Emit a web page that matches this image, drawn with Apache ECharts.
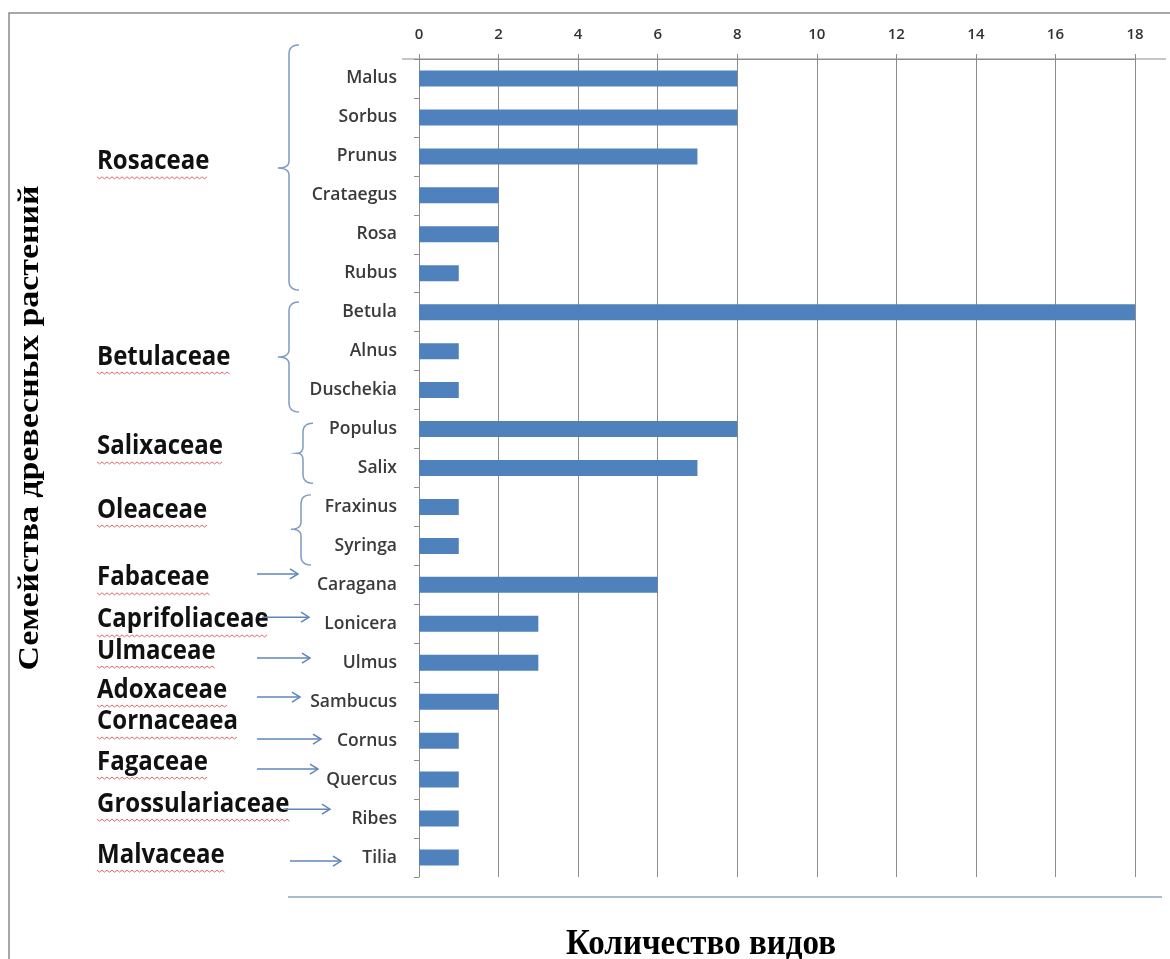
<!DOCTYPE html>
<html>
<head>
<meta charset="utf-8">
<script src="https://cdn.jsdelivr.net/npm/echarts@6/dist/echarts.min.js"></script>
<style>
html,body{margin:0;padding:0;background:#fff;}
#chart{width:1170px;height:959px;}
</style>
</head>
<body>
<div id="chart"></div>
<script>
// ---- data ----
const categories = ['Malus','Sorbus','Prunus','Crataegus','Rosa','Rubus','Betula','Alnus','Duschekia','Populus','Salix','Fraxinus','Syringa','Caragana','Lonicera','Ulmus','Sambucus','Cornus','Quercus','Ribes','Tilia'];
const speciesCounts = [8,8,7,2,2,1,18,1,1,8,7,1,1,6,3,3,2,1,1,1,1];
const xTickValues = [0,2,4,6,8,10,12,14,16,18];
const families = ['Rosaceae','Betulaceae','Salixaceae','Oleaceae','Fabaceae','Caprifoliaceae','Ulmaceae','Adoxaceae','Cornaceaea','Fagaceae','Grossulariaceae','Malvaceae'];
const yTitle = 'Семейства древесных растений';
const xTitle = 'Количество видов';

// ---- annotation layout (fractional category positions) ----
const familyLabelPos = [2.14,7.15,9.46,11.08,12.82,13.90,14.70,15.70,16.52,17.55,18.63,19.94];
const braces = [
  {t:-0.86, m:2.30, b:5.43, x:289, tip:11},
  {t:5.74, m:7.15, b:8.56, x:289, tip:11},
  {t:8.85, m:9.62, b:10.39, x:303, tip:6},
  {t:10.69, m:11.57, b:12.49, x:301, tip:10}
];
const arrows = [
  [12.72,257,298],[13.83,262,309],[14.88,257,310],[15.88,257,300],
  [16.96,257,321],[17.73,257,318],[18.76,283,330],[20.09,290,341]
];

const chart = echarts.init(document.getElementById('chart'));
const gridCol = '#8c8c8c';
chart.setOption({
  animation:false,
  backgroundColor:'#fff',
  grid:{left:419,right:35,top:59,bottom:82,containLabel:false},
  xAxis:{
    type:'value', position:'top', min:0, max:18, interval:2,
    axisLine:{show:true,lineStyle:{color:gridCol,width:1}},
    axisTick:{show:true,length:5,lineStyle:{color:gridCol}},
    axisLabel:{margin:17,color:'#333',fontSize:15,fontWeight:600,fontFamily:'Open Sans',
      formatter:function(v){return xTickValues.indexOf(v)>=0?String(v):'';}},
    splitLine:{show:true,lineStyle:{color:gridCol,width:1}}
  },
  yAxis:{
    type:'category', inverse:true, data:categories,
    axisLine:{show:true,lineStyle:{color:gridCol,width:1}},
    axisTick:{show:true,length:5,lineStyle:{color:gridCol}},
    axisLabel:{margin:22,color:'#3a3a3a',fontSize:17.5,fontWeight:600,fontFamily:'Open Sans'}
  },
  series:[{
    type:'bar', data:speciesCounts, barWidth:16,
    itemStyle:{color:'#4f81bd'}
  }]
});

function catY(f){
  const y0 = chart.convertToPixel({yAxisIndex:0},0);
  const y1 = chart.convertToPixel({yAxisIndex:0},1);
  return y0 + f*(y1-y0);
}
function quad(p0,p1,p2,n){
  const out=[];
  for(let i=0;i<=n;i++){
    const t=i/n, a=(1-t)*(1-t), b=2*(1-t)*t, c=t*t;
    out.push([a*p0[0]+b*p1[0]+c*p2[0], a*p0[1]+b*p1[1]+c*p2[1]]);
  }
  return out;
}
const ctx = document.createElement('canvas').getContext('2d');
const famFont = 'bold 24px "Open Sans"';
ctx.font = famFont;

const g = [];
g.push({type:'rect',shape:{x:9,y:13,width:1200,height:1000},style:{fill:null,stroke:'#8a8a8a',lineWidth:1.5},silent:true});
const axY = catY(-0.5);
g.push({type:'line',shape:{x1:402,y1:axY,x2:1166,y2:axY},style:{stroke:gridCol,lineWidth:1}});
g.push({type:'line',shape:{x1:288,y1:897,x2:1162,y2:897},style:{stroke:'#8fa3bd',lineWidth:1.5}});
families.forEach(function(name,i){
  const y = catY(familyLabelPos[i]);
  g.push({type:'text',x:97,y:y,scaleY:1.1,style:{text:name,font:famFont,fill:'#111',align:'left',verticalAlign:'middle'}});
  const w = ctx.measureText(name).width;
  const pts = [];
  const uy = y + 15;
  for(let x=0,k=0;x<=w;x+=2.5,k++){pts.push([97+x, uy + (k%2?2:0)]);}
  g.push({type:'polyline',shape:{points:pts},style:{stroke:'#e06a6a',lineWidth:1,fill:null}});
});
braces.forEach(function(b){
  const t=catY(b.t), m=catY(b.m), bt=catY(b.b), x=b.x;
  let pts = [];
  pts = pts.concat(quad([x+10,t],[x,t],[x,t+9],6));
  pts = pts.concat(quad([x,m-7],[x,m],[x-b.tip,m],6));
  pts = pts.concat(quad([x-b.tip,m],[x,m],[x,m+7],6));
  pts = pts.concat(quad([x,bt-9],[x,bt],[x+10,bt],6));
  g.push({type:'polyline',shape:{points:pts},style:{stroke:'#7f9bc2',lineWidth:1.5,fill:null}});
});
arrows.forEach(function(a){
  const y=catY(a[0]);
  g.push({type:'polyline',shape:{points:[[a[1],y],[a[2],y]]},style:{stroke:'#5f86b8',lineWidth:1.5,fill:null}});
  g.push({type:'polyline',shape:{points:[[a[2]-8,y-5],[a[2],y],[a[2]-8,y+5]]},style:{stroke:'#5f86b8',lineWidth:1.5,fill:null}});
});
g.push({type:'text',x:30,y:428,rotation:Math.PI/2,scaleX:1.21,scaleY:1.05,
  style:{text:yTitle,font:'bold 28px "Liberation Serif"',fill:'#000',align:'center',verticalAlign:'middle'}});
g.push({type:'text',x:701,y:945,scaleX:1.18,scaleY:1.3,
  style:{text:xTitle,font:'bold 28px "Liberation Serif"',fill:'#000',align:'center',verticalAlign:'middle'}});

chart.setOption({graphic:g});
</script>
</body>
</html>
